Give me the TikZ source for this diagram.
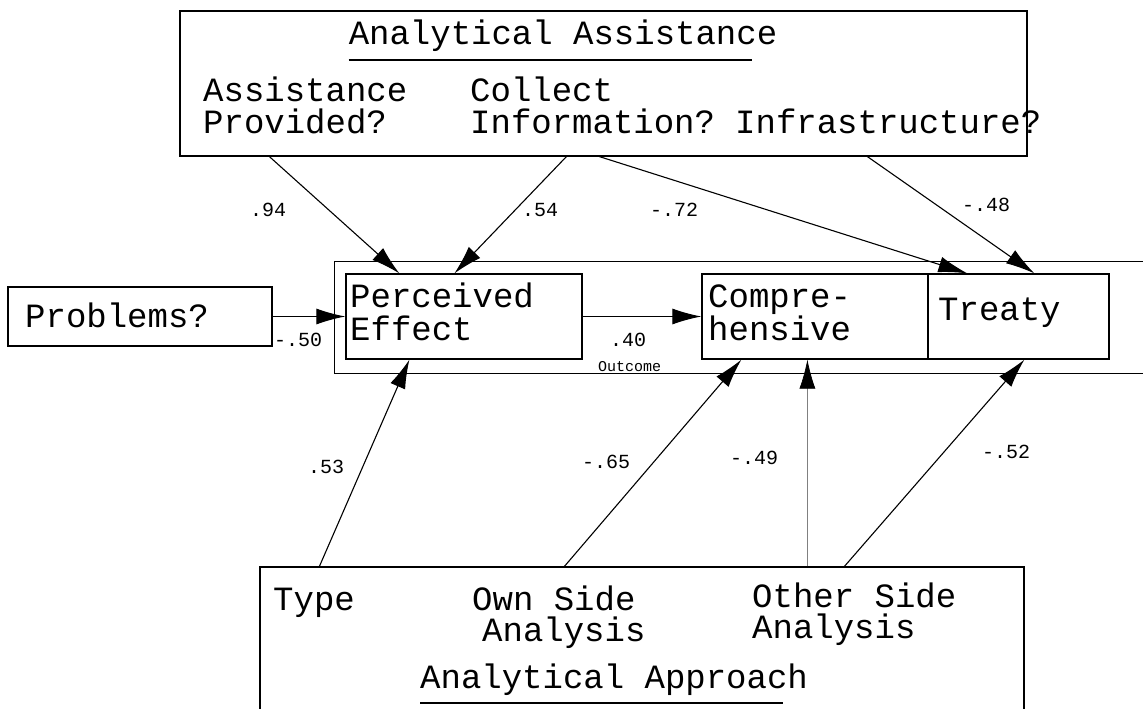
\documentclass[tikz,border=0pt]{standalone}
\usepackage{fontspec}
\setmonofont{Liberation Mono}
\usetikzlibrary{arrows.meta}
\begin{document}
\begin{tikzpicture}[x=1pt,y=-1pt,
  box/.style={draw, line width=1.2pt, inner sep=0pt, rectangle},
  lbl/.style={font=\ttfamily\fontsize{34}{34}\selectfont, inner sep=0pt, anchor=base west},
  num/.style={font=\ttfamily\fontsize{20}{20}\selectfont, inner sep=0pt, anchor=base west},
  small/.style={font=\ttfamily\fontsize{15}{15}\selectfont, inner sep=0pt, anchor=base west},
  uline/.style={line width=2pt},
  arr/.style={line width=1.1pt, -{Latex[length=29pt,width=16pt,color=black]}},
]
\useasboundingbox (0,0) rectangle (1143,709);
\clip (0,0) rectangle (1143,709);

% boxes
\node[box, minimum width=847pt, minimum height=145pt] (assist) at (603.5,83.5) {};
\node[box, minimum width=264pt, minimum height=59pt] (problems) at (140,316.5) {};
\node[box, line width=1pt, minimum width=826pt, minimum height=112pt] (outcome) at (747,317) {};
\node[box, minimum width=236pt, minimum height=85pt] (pe) at (464,316.5) {};
\node[box, minimum width=226pt, minimum height=85pt] (compre) at (815,316.5) {};
\node[box, minimum width=181pt, minimum height=85pt] (treaty) at (1018.5,316.5) {};
\node[box, minimum width=764pt, minimum height=163pt] (approach) at (642,648.5) {};

% texts top
\node[lbl, anchor=base] (assisttitle) at (563,45) {Analytical Assistance};
\draw[uline] ([yshift=-15pt]assisttitle.base west) -- ([yshift=-15pt,xshift=-25pt]assisttitle.base east);
\node[lbl] (provA) at (203,101) {Assistance};
\node[lbl] (provB) at (203,133) {Provided?};
\node[lbl] (collA) at (470,101) {Collect};
\node[lbl] (collB) at (470,133) {Information?};
\node[lbl] (infra) at (735,133) {Infrastructure?};

% middle texts
\node[lbl] (probtxt) at (25,327) {Problems?};
\node[lbl] (peA) at (350,307) {Perceived};
\node[lbl] (peB) at (350,340) {Effect};
\node[lbl] (coA) at (708,307) {Compre-};
\node[lbl] (coB) at (708,340) {hensive};
\node[lbl] (trtxt) at (938,320) {Treaty};
\node[small] (outtxt) at (598,371) {Outcome};

% bottom texts
\node[lbl] (type) at (273,610) {Type};
\node[lbl] (ownA) at (472,610) {Own Side};
\node[lbl] (ownB) at (482,641) {Analysis};
\node[lbl] (othA) at (752,607) {Other Side};
\node[lbl] (othB) at (752,638) {Analysis};
\node[lbl] (apptitle) at (420,688) {Analytical Approach};
\draw[uline] ([yshift=-15pt]apptitle.base west) -- ([yshift=-15pt,xshift=-25pt]apptitle.base east);

% arrows from top
\draw[arr] ([xshift=90pt]assist.south west) -- ([xshift=54pt]pe.north west);
\draw[arr] ([xshift=387pt]assist.south west) -- ([xshift=109pt]pe.north west);
\draw[arr] ([xshift=420pt]assist.south west) -- ([xshift=40pt]treaty.north west);
\draw[arr] ([xshift=688pt]assist.south west) -- ([xshift=107pt]treaty.north west);

% horizontal arrows
\draw[arr] (problems.east) -- (pe.west);
\draw[arr] (pe.east) -- (compre.west);

% arrows from bottom
\draw[arr] ([xshift=60pt]approach.north west) -- ([xshift=64pt]pe.south west);
\draw[arr] ([xshift=305pt]approach.north west) -- ([xshift=40pt]compre.south west);
\draw[arr, line width=0.7pt, draw=gray] ([xshift=548pt]approach.north west) -- ([xshift=106pt]compre.south west);
\draw[arr] ([xshift=585pt]approach.north west) -- ([xshift=97pt]treaty.south west);

% coefficients
\node[num] (c94) at (250,216) {.94};
\node[num] (c54) at (522,216) {.54};
\node[num] (c72) at (650,216) {-.72};
\node[num] (c48) at (962,211) {-.48};
\node[num] (c50) at (274,346) {-.50};
\node[num] (c40) at (610,346) {.40};
\node[num] (c53) at (308,473) {.53};
\node[num] (c65) at (582,468) {-.65};
\node[num] (c49) at (730,464) {-.49};
\node[num] (c52) at (982,458) {-.52};
\end{tikzpicture}
\end{document}
